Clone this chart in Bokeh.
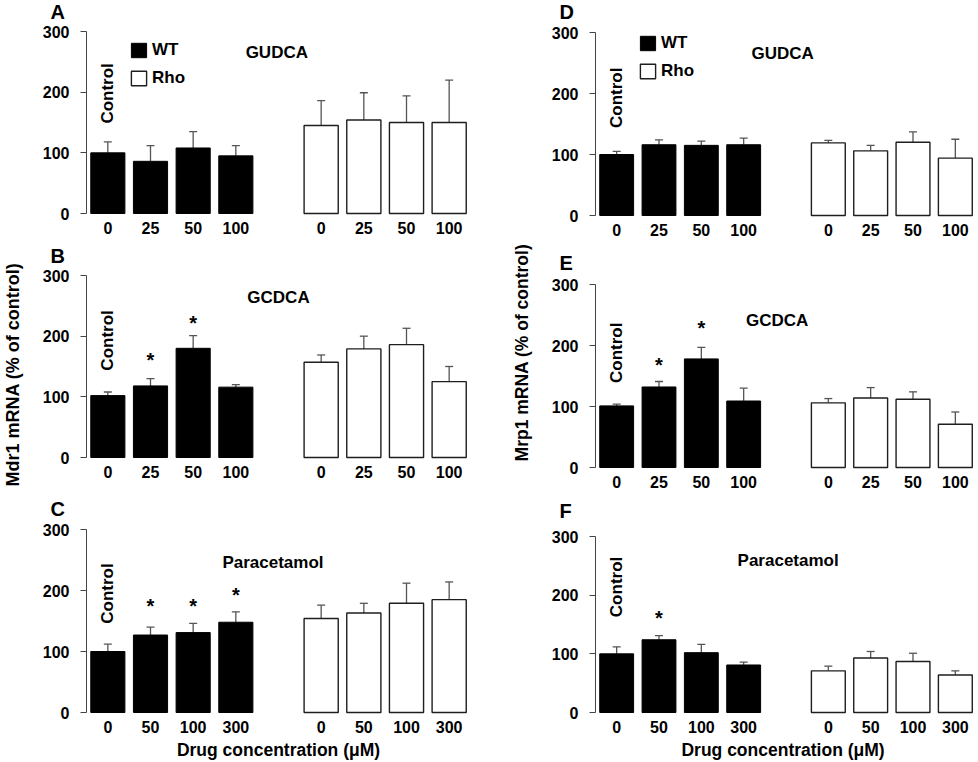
import math
from bokeh.plotting import figure
from bokeh.models import (Range1d, FixedTicker, ColumnDataSource, Whisker, TeeHead,
                          Legend, LegendItem)
from bokeh.layouts import row, column
from bokeh.core.properties import value
from bokeh.embed import file_html
from bokeh.resources import INLINE

FONT = "Liberation Sans"

# ---------------- data ----------------
conc_bile = ["0", "25", "50", "100"]
conc_para = ["0", "50", "100", "300"]

# Mdr1 mRNA (% of control)
mdr1_gudca_wt = [100, 86, 108, 95]
mdr1_gudca_wt_err = [18, 26, 27, 17]
mdr1_gudca_rho = [145, 154, 150, 150]
mdr1_gudca_rho_err = [41, 45, 44, 70]

mdr1_gcdca_wt = [102, 118, 180, 116]
mdr1_gcdca_wt_err = [6, 12, 21, 4]
mdr1_gcdca_rho = [157, 179, 186, 125]
mdr1_gcdca_rho_err = [12, 21, 27, 25]
mdr1_gcdca_star_idx = [1, 2]
mdr1_gcdca_star_y = [163, 223]

mdr1_para_wt = [100, 127, 131, 148]
mdr1_para_wt_err = [12, 13, 15, 17]
mdr1_para_rho = [154, 163, 179, 185]
mdr1_para_rho_err = [22, 16, 33, 29]
mdr1_para_star_idx = [1, 2, 3]
mdr1_para_star_y = [177, 177, 195]

# Mrp1 mRNA (% of control)
mrp1_gudca_wt = [100, 116, 115, 116]
mrp1_gudca_wt_err = [5, 8, 7, 11]
mrp1_gudca_rho = [119, 106, 120, 94]
mrp1_gudca_rho_err = [4, 9, 17, 31]

mrp1_gcdca_wt = [101, 132, 178, 109]
mrp1_gcdca_wt_err = [3, 9, 19, 21]
mrp1_gcdca_rho = [106, 114, 112, 71]
mrp1_gcdca_rho_err = [7, 17, 12, 20]
mrp1_gcdca_star_idx = [1, 2]
mrp1_gcdca_star_y = [170, 231]

mrp1_para_wt = [100, 124, 102, 81]
mrp1_para_wt_err = [12, 7, 14, 5]
mrp1_para_rho = [71, 93, 87, 64]
mrp1_para_rho_err = [8, 11, 14, 7]
mrp1_para_star_idx = [1]
mrp1_para_star_y = [163]

y_ticks = [0, 100, 200, 300]
ytitle_left = "Mdr1 mRNA (% of control)"
ytitle_right = "Mrp1 mRNA (% of control)"
xtitle = "Drug concentration (\u03bcM)"

# ---------------- layout (positions / sizes only, pixels) ----------------
PAGE_H = 762
# canvas width, px from canvas left to the y axis, px per category slot
LEFT = dict(cw=456, ax=62, slot=384 / 9)
RIGHT = dict(cw=443, ax=60, slot=381 / 9)


def make_panel(letter, drug, labels, wt, wt_err, rho, rho_err, star_idx, star_y,
               col, ch, bt, fh, letter_up, title_xy, ctrl_y, legend_loc=None,
               xlabel_below=None):
    slot = col["slot"]
    k = 300.0 / fh                       # data units per pixel (y)
    bb = ch - bt - fh
    x0 = -0.5 - col["ax"] / slot
    x1 = -0.5 + (col["cw"] - col["ax"]) / slot
    p = figure(frame_width=col["cw"], frame_height=ch,
               min_border_left=0, min_border_right=0, min_border_top=0, min_border_bottom=0,
               x_range=Range1d(x0, x1), y_range=Range1d(-bb * k, 300 + bt * k),
               output_backend="svg", toolbar_location=None, tools="")
    p.title.visible = False
    p.outline_line_color = None
    p.grid.visible = False
    p.background_fill_color = "white"
    p.border_fill_color = "white"

    wt_x = list(range(len(wt)))
    rho_x = [i + len(wt) + 1 for i in range(len(rho))]

    r_wt = p.vbar(x=wt_x, top=wt, width=0.8, fill_color="black", line_color="black")
    r_rho = p.vbar(x=rho_x, top=rho, width=0.8, fill_color="white",
                   line_color="#1e1e1e", line_width=1.4)

    src = ColumnDataSource(dict(
        x=wt_x + rho_x,
        lower=list(wt) + list(rho),
        upper=[v + e for v, e in zip(wt, wt_err)] + [v + e for v, e in zip(rho, rho_err)],
    ))
    w = Whisker(source=src, base="x", lower="lower", upper="upper",
                line_color="#555555", line_width=1.3, lower_head=None,
                upper_head=TeeHead(size=8, line_color="#555555", line_width=1.3))
    p.add_layout(w)

    bold = dict(text_font=value(FONT), text_font_style="bold", text_color="black")

    if star_idx:
        p.text(x=[wt_x[i] for i in star_idx], y=star_y, text=["*"] * len(star_idx),
               text_align="center", text_baseline="middle", y_offset=1,
               text_font_size="20px", **bold)

    p.text(x=[0], y=[ctrl_y], text=["Control"], angle=math.pi / 2,
           text_align="center", text_baseline="middle", text_font_size="17px", **bold)

    p.text(x=[title_xy[0]], y=[title_xy[1]], text=[drug],
           text_align="center", text_baseline="middle", text_font_size="17px", **bold)

    # panel letter: 36 px left of the y axis, letter_up px above the 300 line
    p.text(x=[-0.5 - 36 / slot], y=[300 + letter_up * k], text=[letter],
           text_align="left", text_baseline="alphabetic", text_font_size="20px", **bold)

    if xlabel_below is not None:
        p.text(x=[xlabel_below[0]], y=[-xlabel_below[1] * k], text=[xtitle],
               text_align="center", text_baseline="alphabetic", text_font_size="17.5px", **bold)

    # axes, pinned to the data origin
    ya = p.yaxis[0]
    ya.fixed_location = -0.5
    ya.bounds = (0, 300)
    ya.ticker = FixedTicker(ticks=y_ticks)
    ya.axis_line_color = "#444444"
    ya.major_tick_line_color = "#444444"
    ya.major_tick_out = 6
    ya.major_tick_in = 0
    ya.minor_tick_line_color = None
    ya.major_label_standoff = 11
    ya.major_label_text_font = FONT
    ya.major_label_text_font_size = "16px"
    ya.major_label_text_font_style = "bold"
    ya.major_label_text_color = "black"

    xa = p.xaxis[0]
    xa.fixed_location = 0
    xa.ticker = FixedTicker(ticks=wt_x + rho_x)
    xa.major_label_overrides = {x: lab for x, lab in zip(wt_x + rho_x, list(labels) + list(labels))}
    xa.axis_line_color = None
    xa.major_tick_line_color = None
    xa.minor_tick_line_color = None
    xa.major_label_standoff = 2
    xa.major_label_text_font = FONT
    xa.major_label_text_font_size = "16px"
    xa.major_label_text_font_style = "bold"
    xa.major_label_text_color = "black"

    if legend_loc is not None:
        leg = Legend(items=[LegendItem(label="WT", renderers=[r_wt]),
                            LegendItem(label="Rho", renderers=[r_rho])],
                     location=(legend_loc[0] + col["ax"], legend_loc[1] + bb),
                     padding=0, margin=0, spacing=8,
                     glyph_width=19, glyph_height=18, label_height=18, label_standoff=4,
                     label_text_font=FONT, label_text_font_size="17px",
                     label_text_font_style="bold", label_text_color="black",
                     background_fill_alpha=0, border_line_alpha=0)
        p.add_layout(leg)
    return p


def make_strip(x0, x1, text, cx, cy, size):
    # narrow figure carrying a shared, rotated y-axis title (page pixel coordinates)
    s = figure(frame_width=x1 - x0, frame_height=PAGE_H,
               min_border_left=0, min_border_right=0, min_border_top=0, min_border_bottom=0,
               x_range=Range1d(x0, x1), y_range=Range1d(PAGE_H, 0),
               x_axis_location=None, y_axis_location=None,
               output_backend="svg", toolbar_location=None, tools="")
    s.title.visible = False
    s.outline_line_color = None
    s.grid.visible = False
    s.text(x=[cx], y=[cy], text=[text], angle=math.pi / 2,
           text_align="center", text_baseline="middle",
           text_font=value(FONT), text_font_size=size, text_font_style="bold",
           text_color="black")
    return s


pA = make_panel("A", "GUDCA", conc_bile, mdr1_gudca_wt, mdr1_gudca_wt_err,
                mdr1_gudca_rho, mdr1_gudca_rho_err, [], [],
                LEFT, 239, 31, 182, 20, (3.96, 266), 198, legend_loc=(43, 125))
pB = make_panel("B", "GCDCA", conc_bile, mdr1_gcdca_wt, mdr1_gcdca_wt_err,
                mdr1_gcdca_rho, mdr1_gcdca_rho_err, mdr1_gcdca_star_idx, mdr1_gcdca_star_y,
                LEFT, 250, 36, 182, 20, (4.0, 264), 193)
pC = make_panel("C", "Paracetamol", conc_para, mdr1_para_wt, mdr1_para_wt_err,
                mdr1_para_rho, mdr1_para_rho_err, mdr1_para_star_idx, mdr1_para_star_y,
                LEFT, 273, 40, 183, 21, (3.87, 246.5), 195, xlabel_below=(4.0, 37))
pD = make_panel("D", "GUDCA", conc_bile, mrp1_gudca_wt, mrp1_gudca_wt_err,
                mrp1_gudca_rho, mrp1_gudca_rho_err, [], [],
                RIGHT, 237, 32, 183, 21, (3.92, 265), 193, legend_loc=(43, 134))
pE = make_panel("E", "GCDCA", conc_bile, mrp1_gcdca_wt, mrp1_gcdca_wt_err,
                mrp1_gcdca_rho, mrp1_gcdca_rho_err, mrp1_gcdca_star_idx, mrp1_gcdca_star_y,
                RIGHT, 257, 47, 183, 22, (3.79, 241), 188)
pF = make_panel("F", "Paracetamol", conc_para, mrp1_para_wt, mrp1_para_wt_err,
                mrp1_para_rho, mrp1_para_rho_err, mrp1_para_star_idx, mrp1_para_star_y,
                RIGHT, 268, 42, 176, 26, (4.05, 259), 214, xlabel_below=(3.93, 37))

strip_left = make_strip(0, 24, ytitle_left, 12, 374, "18px")
strip_mid = make_strip(480, 535, ytitle_right, 521, 352, "17.5px")

layout = row(strip_left, column(pA, pB, pC), strip_mid, column(pD, pE, pF))

open("out.html", "w").write(file_html(layout, INLINE))
